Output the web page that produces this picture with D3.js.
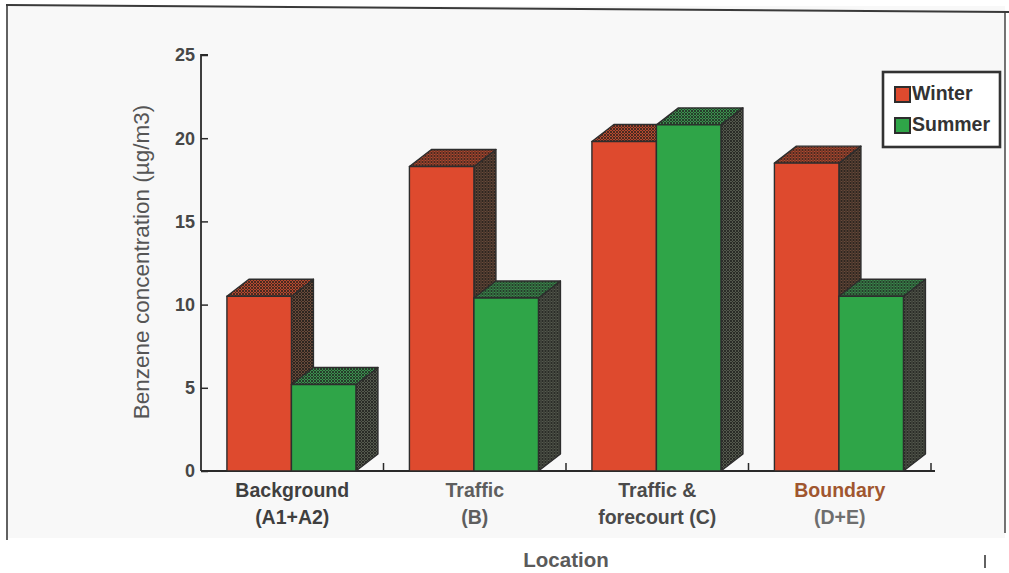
<!DOCTYPE html>
<html>
<head>
<meta charset="utf-8">
<script src="https://cdn.jsdelivr.net/npm/d3@7"></script>
<style>
  body { margin: 0; background: #fff; }
  svg { display: block; }
  text { font-family: Arial, "Liberation Sans", Helvetica, sans-serif; }
</style>
</head>
<body>
<svg id="chart" width="1009" height="573"></svg>
<script>
// Benzene concentration by location, winter vs summer
const categories = ["Background (A1+A2)", "Traffic (B)", "Traffic & forecourt (C)", "Boundary (D+E)"];
const categoryLines = [["Background", "(A1+A2)"], ["Traffic", "(B)"], ["Traffic &", "forecourt (C)"], ["Boundary", "(D+E)"]];
const series = ["Winter", "Summer"];
const winterValues = [10.5, 18.3, 19.8, 18.5];
const summerValues = [5.2, 10.4, 20.8, 10.5];
const yTicks = [0, 5, 10, 15, 20, 25];
const yTitle = "Benzene concentration (\u00b5g/m3)";
const xTitle = "Location";

const svg = d3.select("#chart");
const W = 1009, H = 573;

// page / frame
svg.append("rect").attr("width", W).attr("height", H).attr("fill", "#ffffff");
svg.append("rect").attr("x", 7).attr("y", 6).attr("width", 998).attr("height", 532).attr("fill", "#f8f8f8");
const frame = svg.append("g").attr("fill", "none").attr("stroke", "#3a3a3a");
frame.append("path").attr("d", d3.line()([[6, 5], [1009, 12]])).attr("stroke-width", 2);
frame.append("path").attr("d", d3.line()([[7, 5], [7, 540]])).attr("stroke-width", 1.6);
frame.append("path").attr("d", d3.line()([[1005, 12], [1005, 533]])).attr("stroke-width", 1.4);
frame.append("path").attr("d", d3.line()([[985, 555], [985, 568]])).attr("stroke-width", 1.6);

// scales
const y = d3.scaleLinear().domain([0, 25]).range([471, 55]);
const x0 = d3.scaleBand().domain(categories).range([201, 931]).paddingInner(0).paddingOuter(0);
const bw = x0.bandwidth();
const x1 = d3.scaleBand().domain(series).range([bw * 0.142, bw * 0.849]).paddingInner(0).paddingOuter(0);
const depthX = 22, depthY = -17;

// textured faces for the 3D tops and sides
const defs = svg.append("defs");
function hatch(id, base, ink) {
  const p = defs.append("pattern").attr("id", id).attr("patternUnits", "userSpaceOnUse")
    .attr("width", 3).attr("height", 3);
  p.append("rect").attr("width", 3).attr("height", 3).attr("fill", base);
  p.append("path").attr("d", "M0,0 L3,3 M3,0 L0,3").attr("stroke", ink).attr("stroke-width", 1);
}
hatch("topWinter", "#b5492f", "#4a2a20");
hatch("topSummer", "#3b8f4e", "#263d2b");
hatch("sideWinter", "#6a4a3a", "#2e2620");
hatch("sideSummer", "#555a4e", "#2a2c27");

const colors = { Winter: "#de4a2e", Summer: "#2fa548" };
const tops = { Winter: "url(#topWinter)", Summer: "url(#topSummer)" };
const sides = { Winter: "url(#sideWinter)", Summer: "url(#sideSummer)" };

const rows = categories.map((c, i) => ({
  cat: c,
  values: [{ s: "Winter", v: winterValues[i] }, { s: "Summer", v: summerValues[i] }]
}));

// y axis
const yAxis = d3.axisRight(y).tickValues(yTicks).tickSize(7).tickFormat("");
const ya = svg.append("g").attr("transform", "translate(201,0)").call(yAxis);
ya.select(".domain").attr("stroke", "#2a2a2a").attr("stroke-width", 1.8).attr("d", `M7,${y(25)}H0V${y(0)}`);
ya.selectAll(".tick line").attr("stroke", "#2a2a2a").attr("stroke-width", 1.5);

svg.append("g").selectAll("text").data(yTicks).join("text")
  .attr("x", 195).attr("y", d => y(d)).attr("dy", "0.36em")
  .attr("text-anchor", "end").attr("font-size", 18).attr("font-weight", "bold")
  .attr("fill", "#474747").text(d => d);

// x axis baseline with boundary ticks
const xa = svg.append("g");
xa.append("path").attr("d", d3.line()([[201, y(0)], [935, y(0)]]))
  .attr("stroke", "#2a2a2a").attr("stroke-width", 1.8).attr("fill", "none");
xa.selectAll("line").data(categories).join("line")
  .attr("x1", d => x0(d) + bw).attr("x2", d => x0(d) + bw)
  .attr("y1", y(0)).attr("y2", y(0) - 8)
  .attr("stroke", "#2a2a2a").attr("stroke-width", 1.5);

// 3D bars
const groups = svg.append("g").selectAll("g").data(rows).join("g")
  .attr("transform", d => `translate(${x0(d.cat)},0)`);

groups.each(function (row) {
  const g = d3.select(this);
  row.values.forEach(d => {
    const bx = x1(d.s), w = x1.bandwidth(), yt = y(d.v), yb = y(0);
    const b = g.append("g").attr("stroke", "#2d2d2d").attr("stroke-width", 1.4).attr("stroke-linejoin", "round");
    b.append("path").attr("fill", sides[d.s])
      .attr("d", d3.line()([[bx + w, yt], [bx + w + depthX, yt + depthY], [bx + w + depthX, yb + depthY], [bx + w, yb]]) + "Z");
    b.append("path").attr("fill", tops[d.s])
      .attr("d", d3.line()([[bx, yt], [bx + depthX, yt + depthY], [bx + w + depthX, yt + depthY], [bx + w, yt]]) + "Z");
    b.append("rect").attr("x", bx).attr("y", yt).attr("width", w).attr("height", yb - yt)
      .attr("fill", colors[d.s]);
  });
});

// category labels
const labelFill = ["#3f3f3f", "#5e5e5e", "#4a4a4a", "#a0562f"];
const labelFill2 = ["#3f3f3f", "#5e5e5e", "#4a4a4a", "#6e6e6e"];
const xl = svg.append("g").selectAll("text").data(categories).join("text")
  .attr("text-anchor", "middle").attr("font-size", 19.5).attr("font-weight", "bold");
xl.append("tspan").attr("x", d => x0(d) + bw / 2).attr("y", 497)
  .attr("fill", (d, i) => labelFill[i]).text((d, i) => categoryLines[i][0]);
xl.append("tspan").attr("x", d => x0(d) + bw / 2).attr("y", 524)
  .attr("fill", (d, i) => labelFill2[i]).text((d, i) => categoryLines[i][1]);

// axis titles
svg.append("text").attr("x", (201 + 931) / 2).attr("y", 567).attr("text-anchor", "middle")
  .attr("font-size", 20.5).attr("font-weight", "bold").attr("fill", "#5a5a5a").text(xTitle);
svg.append("text").attr("transform", "translate(149,262) rotate(-90)").attr("text-anchor", "middle")
  .attr("font-size", 22.5).attr("fill", "#555").text(yTitle);

// legend
const lg = svg.append("g").attr("transform", "translate(883,72)");
lg.append("rect").attr("width", 117).attr("height", 75).attr("fill", "#fff")
  .attr("stroke", "#333").attr("stroke-width", 2.6);
series.forEach((s, i) => {
  const row = lg.append("g").attr("transform", `translate(12,${15 + i * 31})`);
  row.append("rect").attr("width", 15).attr("height", 15).attr("fill", colors[s])
    .attr("stroke", "#2d2d2d").attr("stroke-width", 2);
  row.append("text").attr("x", 17).attr("y", 13).attr("font-size", 19.5).attr("font-weight", "bold")
    .attr("fill", "#333").text(s);
});
</script>
</body>
</html>
